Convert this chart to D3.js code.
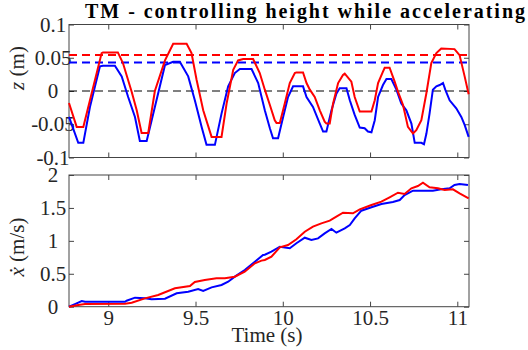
<!DOCTYPE html>
<html>
<head>
<meta charset="utf-8">
<script src="https://cdn.jsdelivr.net/npm/d3@7"></script>
<style>
  body { margin: 0; background: #fff; }
  .box { fill: none; stroke: #444; stroke-width: 1; }
  .axis line { stroke: #444; }
  .axis path { display: none; }
  .axis text { fill: #262626; }
</style>
</head>
<body>
<div id="chart"></div>
<script>
// top panel: height z (m)
var tZRed = [8.775, 8.819, 8.857, 8.962, 8.970, 9.055, 9.084, 9.134, 9.163, 9.191, 9.229, 9.267, 9.325,
  9.372, 9.449, 9.477, 9.506, 9.544, 9.592, 9.649, 9.678, 9.716, 9.744, 9.773, 9.830, 9.868, 9.897,
  9.926, 9.954, 9.964, 9.983, 10.011, 10.040, 10.069, 10.078, 10.116, 10.136, 10.155, 10.183, 10.212,
  10.240, 10.250, 10.269, 10.288, 10.317, 10.345, 10.355, 10.393, 10.412, 10.441, 10.508, 10.527,
  10.546, 10.574, 10.584, 10.612, 10.641, 10.660, 10.689, 10.717, 10.746, 10.765, 10.794, 10.823,
  10.851, 10.880, 10.908, 10.984, 11.013, 11.042, 11.065];
var zRed = [-0.018, -0.054, -0.054, 0.057, 0.058, 0.058, 0.042, -0.001, -0.029, -0.063, -0.063, 0.000, 0.046,
  0.071, 0.071, 0.057, 0.017, -0.029, -0.069, -0.069, -0.019, 0.032, 0.046, 0.048, 0.048, 0.027, 0.002,
  -0.021, -0.044, -0.048, -0.048, -0.019, 0.012, 0.027, 0.028, 0.028, 0.012, 0.002, -0.009, -0.029,
  -0.046, -0.049, -0.049, -0.019, 0.012, 0.024, 0.026, 0.014, -0.009, -0.031, -0.031, -0.014,
  0.012, 0.029, 0.035, 0.035, 0.014, -0.001, -0.021, -0.054, -0.064, -0.059, -0.044, -0.003,
  0.042, 0.057, 0.064, 0.063, 0.054, 0.022, -0.005];

var tZBlue = [8.775, 8.828, 8.857, 8.895, 8.924, 8.952, 8.970, 9.038, 9.077, 9.114, 9.153, 9.181, 9.220,
  9.267, 9.325, 9.372, 9.410, 9.458, 9.496, 9.535, 9.563, 9.611, 9.649, 9.687, 9.725, 9.754, 9.821,
  9.859, 9.897, 9.926, 9.944, 9.973, 10.002, 10.030, 10.059, 10.116, 10.136, 10.173, 10.212, 10.231,
  10.250, 10.279, 10.307, 10.326, 10.365, 10.384, 10.412, 10.441, 10.469, 10.488, 10.508, 10.527,
  10.546, 10.574, 10.594, 10.622, 10.651, 10.679, 10.708, 10.737, 10.756, 10.794, 10.809, 10.823,
  10.841, 10.860, 10.880, 10.899, 10.918, 10.931, 10.956, 10.994, 11.023, 11.042, 11.065];
var zBlue = [-0.039, -0.078, -0.078, -0.024, 0.007, 0.037, 0.038, 0.038, 0.022, -0.009, -0.039, -0.075, -0.075,
  -0.024, 0.039, 0.044, 0.044, 0.022, -0.014, -0.054, -0.081, -0.081, -0.034, 0.007, 0.027, 0.033, 0.033,
  0.012, -0.029, -0.056, -0.071, -0.071, -0.039, -0.009, 0.007, 0.007, -0.009, -0.024, -0.049, -0.061,
  -0.061, -0.029, -0.004, 0.004, 0.004, -0.014, -0.036, -0.055, -0.056, -0.061, -0.062, -0.044,
  -0.009, 0.009, 0.018, 0.018, 0.002, -0.019, -0.029, -0.049, -0.078, -0.078, -0.080, -0.064,
  -0.034, 0.002, 0.007, 0.009, 0.012, 0.002, -0.014, -0.026, -0.039, -0.051, -0.069];

// reference heights (dashed)
var zRefRed = 0.054;
var zRefBlue = 0.043;

// bottom panel: forward speed (m/s)
var tVRed = [8.775, 8.828, 8.867, 9.096, 9.134, 9.210, 9.286, 9.382, 9.468, 9.496, 9.553, 9.620, 9.668,
  9.725, 9.782, 9.840, 9.878, 9.897, 9.935, 9.983, 10.030, 10.078, 10.126, 10.173, 10.221, 10.269,
  10.307, 10.345, 10.402, 10.441, 10.508, 10.565, 10.612, 10.660, 10.698, 10.737, 10.774, 10.803,
  10.841, 10.889, 10.927, 10.975, 11.013, 11.065];
var vRed = [0, 0.026, 0.041, 0.045, 0.061, 0.127, 0.178, 0.279, 0.314, 0.375, 0.405, 0.431, 0.431,
  0.456, 0.532, 0.659, 0.700, 0.709, 0.760, 0.902, 0.937, 1.023, 1.139, 1.215, 1.266, 1.306,
  1.367, 1.428, 1.418, 1.479, 1.544, 1.595, 1.661, 1.731, 1.711, 1.798, 1.833, 1.883,
  1.813, 1.798, 1.772, 1.783, 1.722, 1.646];

var tVBlue = [8.775, 8.809, 8.848, 8.867, 9.096, 9.105, 9.153, 9.210, 9.248, 9.325, 9.392, 9.458, 9.515,
  9.544, 9.592, 9.649, 9.687, 9.725, 9.782, 9.840, 9.887, 9.897, 9.935, 9.983, 10.040, 10.078,
  10.126, 10.164, 10.202, 10.240, 10.279, 10.307, 10.355, 10.384, 10.412, 10.450, 10.508, 10.565,
  10.631, 10.670, 10.698, 10.746, 10.813, 10.860, 10.908, 10.956, 10.984, 11.013, 11.061];
var vBlue = [0, 0.040, 0.087, 0.075, 0.075, 0.090, 0.137, 0.127, 0.112, 0.122, 0.203, 0.228, 0.269,
  0.238, 0.294, 0.330, 0.380, 0.456, 0.557, 0.683, 0.785, 0.790, 0.835, 0.911, 0.887, 0.963,
  1.048, 1.013, 1.038, 1.114, 1.180, 1.124, 1.190, 1.240, 1.342, 1.458, 1.510, 1.560,
  1.590, 1.620, 1.696, 1.762, 1.762, 1.762, 1.783, 1.798, 1.848, 1.863, 1.848];

var timeTicks = [9, 9.5, 10, 10.5, 11];
var timeTickLabels = ['9', '9.5', '10', '10.5', '11'];
var zTicks = [-0.1, -0.05, 0, 0.05, 0.1];
var zTickLabels = ['-0.1', '-0.05', '0', '0.05', '0.1'];
var vTicks = [0, 0.5, 1, 1.5, 2];
var vTickLabels = ['0', '0.5', '1', '1.5', '2'];

var FONT = "'Liberation Serif', Tinos, 'Times New Roman', Times, serif";
var W = 528, H = 350;
var left = 69, right = 469;
var topPanel = { y0: 24.5, y1: 157.5 };
var botPanel = { y0: 175, y1: 306.7 };

var svg = d3.select('#chart').append('svg')
  .attr('width', W)
  .attr('height', H)
  .style('font-family', FONT);

var x = d3.scaleLinear().domain([8.775, 11.067]).range([left, right]);
var yz = d3.scaleLinear().domain([-0.1, 0.1]).range([topPanel.y1, topPanel.y0]);
var yv = d3.scaleLinear().domain([0, 2]).range([botPanel.y1, botPanel.y0]);

function zip(ts, vs) {
  return ts.map(function(t, i) { return [t, vs[i]]; });
}

// box + inward ticks on all four sides
function drawFrame(yScale, yTicks, yLabels, showX) {
  var r = yScale.range();
  var g = svg.append('g');

  g.append('g')
    .attr('class', 'axis')
    .attr('transform', 'translate(0,' + r[0] + ')')
    .call(d3.axisBottom(x).tickValues(timeTicks).tickSize(-5)
      .tickFormat(function(d, i) { return showX ? timeTickLabels[i] : ''; }))
    .call(function(a) {
      a.selectAll('text').attr('y', 3).attr('dy', '0.71em');
    });
  g.append('g')
    .attr('class', 'axis')
    .attr('transform', 'translate(0,' + r[1] + ')')
    .call(d3.axisTop(x).tickValues(timeTicks).tickSize(-5).tickFormat(''));

  g.append('g')
    .attr('class', 'axis')
    .attr('transform', 'translate(' + left + ',0)')
    .call(d3.axisLeft(yScale).tickValues(yTicks).tickSize(-5)
      .tickFormat(function(d, i) { return yLabels[i]; }))
    .call(function(a) {
      a.selectAll('text').attr('x', -16).attr('text-anchor', 'middle');
    });
  g.append('g')
    .attr('class', 'axis')
    .attr('transform', 'translate(' + right + ',0)')
    .call(d3.axisRight(yScale).tickValues(yTicks).tickSize(-5).tickFormat(''));

  g.selectAll('.axis')
    .attr('font-family', FONT)
    .attr('font-size', 21);

  g.append('rect')
    .attr('class', 'box')
    .attr('x', left)
    .attr('y', r[1])
    .attr('width', right - left)
    .attr('height', r[0] - r[1]);
}

drawFrame(yz, zTicks, zTickLabels, false);
drawFrame(yv, vTicks, vTickLabels, true);

var lineZ = d3.line().x(function(d) { return x(d[0]); }).y(function(d) { return yz(d[1]); });
var lineV = d3.line().x(function(d) { return x(d[0]); }).y(function(d) { return yv(d[1]); });

// dashed reference lines
[[zRefRed, '#ff0000', 2], [zRefBlue, '#0000ff', 2], [0, '#000', 1]].forEach(function(r) {
  svg.append('line')
    .attr('x1', left).attr('x2', right)
    .attr('y1', yz(r[0])).attr('y2', yz(r[0]))
    .attr('stroke', r[1])
    .attr('stroke-width', r[2])
    .attr('stroke-dasharray', '8,5');
});

svg.append('path')
  .datum(zip(tZBlue, zBlue))
  .attr('fill', 'none').attr('stroke', '#0000ff').attr('stroke-width', 2)
  .attr('d', lineZ);
svg.append('path')
  .datum(zip(tZRed, zRed))
  .attr('fill', 'none').attr('stroke', '#ff0000').attr('stroke-width', 2)
  .attr('d', lineZ);

svg.append('path')
  .datum(zip(tVBlue, vBlue))
  .attr('fill', 'none').attr('stroke', '#0000ff').attr('stroke-width', 2)
  .attr('d', lineV);
svg.append('path')
  .datum(zip(tVRed, vRed))
  .attr('fill', 'none').attr('stroke', '#ff0000').attr('stroke-width', 2)
  .attr('d', lineV);

// title and axis labels
svg.append('text')
  .attr('x', 305).attr('y', 18)
  .attr('text-anchor', 'middle')
  .attr('font-family', FONT)
  .attr('font-size', 20)
  .attr('font-weight', 'bold')
  .attr('textLength', 440)
  .text('TM - controlling height while accelerating');

var zl = svg.append('text')
  .attr('transform', 'translate(24,68) rotate(-90)')
  .attr('text-anchor', 'middle')
  .attr('font-family', FONT)
  .attr('font-size', 21)
  .attr('fill', '#262626');
zl.append('tspan').attr('font-style', 'italic').text('z');
zl.append('tspan').text(' (m)');

var vl = svg.append('text')
  .attr('transform', 'translate(24,247) rotate(-90)')
  .attr('text-anchor', 'middle')
  .attr('font-family', FONT)
  .attr('font-size', 21)
  .attr('fill', '#262626');
vl.append('tspan').attr('font-style', 'italic').text('ẋ');
vl.append('tspan').text(' (m/s)');

svg.append('text')
  .attr('x', 267).attr('y', 342)
  .attr('text-anchor', 'middle')
  .attr('font-family', FONT)
  .attr('font-size', 21)
  .attr('fill', '#262626')
  .text('Time (s)');
</script>
</body>
</html>
